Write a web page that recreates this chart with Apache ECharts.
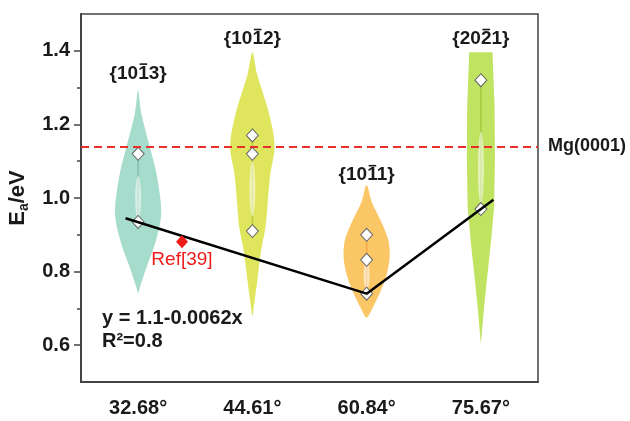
<!DOCTYPE html>
<html>
<head>
<meta charset="utf-8">
<script src="https://cdn.jsdelivr.net/npm/echarts@6/dist/echarts.min.js"></script>
<style>
html,body{margin:0;padding:0;background:#fff}
#chart{width:630px;height:421px}
</style>
</head>
<body>
<div id="chart"></div>
<script>
var categories = ['32.68°', '44.61°', '60.84°', '75.67°'];
// facet label split as [before, overlined digit, after]
var facetParts = [['{10', '1', '3}'], ['{10', '1', '2}'], ['{10', '1', '1}'], ['{20', '2', '1}']];
var facetLabelY = [1.338, 1.432, 1.062, 1.432];

// violin outline: [Ea, half width in category units], top to bottom
var violin1 = [[1.292,0],[1.229,0.029],[1.139,0.102],[1.067,0.160],[0.977,0.201],[0.932,0.193],[0.868,0.140],[0.814,0.076],[0.760,0.018],[0.742,0]];
var violin2 = [[1.396,0],[1.337,0.041],[1.247,0.131],[1.175,0.184],[1.130,0.193],[1.067,0.158],[0.995,0.136],[0.923,0.116],[0.851,0.073],[0.778,0.044],[0.706,0.013],[0.679,0]];
var violin3 = [[1.035,0],[0.990,0.044],[0.927,0.140],[0.882,0.193],[0.837,0.201],[0.792,0.175],[0.747,0.123],[0.702,0.053],[0.675,0]];
var violin4 = [[1.396,0.102],[1.247,0.120],[1.112,0.123],[0.977,0.116],[0.886,0.090],[0.796,0.059],[0.706,0.029],[0.603,0]];
var violinProfiles = [violin1, violin2, violin3, violin4];
var violinSmooth = [0.3, 0.3, 0.3, 0];

// light inner spindle [low, high]
var innerBoxes = [[0.94, 1.06], [0.95, 1.10], [0.75, 0.83], [0.98, 1.18]];

// points (diamonds)
var diamondValues = [[1.12, 0.935], [1.17, 1.12, 0.91], [0.90, 0.832, 0.74], [1.32, 0.97]];

// fit line on the continuous x scale (category i sits at i + 0.5)
var fitX = [0.39, 2.5, 3.61];
var fitY = [0.945, 0.74, 0.995];

var refPoint = [0.884, 0.881];
var mgValue = 1.138;

var yLabelValues = [0.6, 0.8, 1.0, 1.2, 1.4];
var yMinorValues = [0.7, 0.9, 1.1, 1.3];

var violinColors = ['#a6dccc', '#dfe65e', '#fbc665', '#c0e361'];
var innerLineColors = ['#5fa592', '#9aae1a', '#f08a2a', '#7fb51c'];

var FONT = '"Liberation Sans", Arial, sans-serif';
var LABEL_FONT = 'bold 19px ' + FONT;

var chart = echarts.init(document.getElementById('chart'));
var measureCtx = document.createElement('canvas').getContext('2d');
measureCtx.font = LABEL_FONT;

function renderViolin(params, api) {
    var i = params.dataIndex;
    var c = i + 0.5;
    var prof = violinProfiles[i];
    var pts = [];
    prof.forEach(function (p) {
        pts.push(api.coord([c + p[1], p[0]]));
    });
    for (var k = prof.length - 1; k >= 0; k--) {
        if (prof[k][1] > 0) pts.push(api.coord([c - prof[k][1], prof[k][0]]));
    }
    var box = innerBoxes[i];
    var top = api.coord([c, box[1]]), bot = api.coord([c, box[0]]);
    var mid = (top[1] + bot[1]) / 2;
    var d = diamondValues[i];
    var lt = api.coord([c, Math.max.apply(null, d)]);
    var lb = api.coord([c, Math.min.apply(null, d)]);
    return {
        type: 'group',
        children: [
            {type: 'polygon', shape: {points: pts, smooth: violinSmooth[i]}, style: {fill: violinColors[i]}},
            {type: 'line', shape: {x1: lt[0], y1: lt[1], x2: lb[0], y2: lb[1]},
                style: {stroke: innerLineColors[i], lineWidth: 1.5, opacity: 0.5}},
            {type: 'polygon', shape: {points: [[top[0], top[1]], [top[0] + 3, mid], [bot[0], bot[1]], [bot[0] - 3, mid]], smooth: 0.5},
                style: {fill: 'rgba(255,255,255,0.55)'}}
        ]
    };
}

function renderFacet(params, api) {
    var i = params.dataIndex;
    var pos = api.coord([i + 0.5, facetLabelY[i]]);
    var parts = facetParts[i];
    var w0 = measureCtx.measureText(parts[0]).width;
    var w1 = measureCtx.measureText(parts[1]).width;
    var wAll = measureCtx.measureText(parts.join('')).width;
    var left = pos[0] - wAll / 2;
    var barY = pos[1] - 9.5;
    return {
        type: 'group',
        children: [
            {type: 'text', x: pos[0], y: pos[1],
                style: {text: parts.join(''), font: LABEL_FONT, fill: '#1a1a1a', align: 'center', verticalAlign: 'middle'}},
            {type: 'line', shape: {x1: left + w0 + 1.5, y1: barY, x2: left + w0 + w1 - 1.5, y2: barY},
                style: {stroke: '#1a1a1a', lineWidth: 1.6}}
        ]
    };
}

var diamondData = [];
diamondValues.forEach(function (vals, i) {
    vals.forEach(function (v) { diamondData.push([categories[i], v]); });
});

var option = {
    animation: false,
    textStyle: {fontFamily: FONT},
    grid: {left: 81, right: 92, top: 14, bottom: 39, show: true, borderColor: '#444', borderWidth: 1.5,
        containLabel: false, outerBoundsMode: 'none'},
    xAxis: [
        {
            type: 'category',
            data: categories,
            boundaryGap: true,
            axisLine: {lineStyle: {color: '#444', width: 2}},
            axisTick: {alignWithLabel: true, length: 8, lineStyle: {color: '#444', width: 1.5}},
            axisLabel: {color: '#1a1a1a', fontSize: 20, fontWeight: 'bold', margin: 16, fontFamily: FONT},
            splitLine: {show: false}
        },
        {
            type: 'value', min: 0, max: 4, show: false
        }
    ],
    yAxis: [
        {
            type: 'value', min: 0.5, max: 1.5,
            name: '{b|E}{s|a}{b|/eV}',
            nameLocation: 'middle',
            nameGap: 50,
            nameRotate: 90,
            nameTextStyle: {
                rich: {
                    b: {fontSize: 22, fontWeight: 'bold', color: '#1a1a1a', fontFamily: FONT},
                    s: {fontSize: 14, fontWeight: 'bold', color: '#1a1a1a', fontFamily: FONT, verticalAlign: 'bottom', padding: [12, 0, 0, 0]}
                }
            },
            axisLine: {show: true, lineStyle: {color: '#444', width: 2}},
            axisTick: {show: true, length: 7, customValues: yLabelValues, lineStyle: {color: '#444', width: 1.5}},
            axisLabel: {customValues: yLabelValues, color: '#1a1a1a', fontSize: 20, fontWeight: 'bold', margin: 11, fontFamily: FONT,
                formatter: function (v) { return v.toFixed(1); }},
            splitLine: {show: false}
        },
        {
            type: 'value', min: 0.5, max: 1.5, position: 'left',
            axisLine: {show: false},
            axisTick: {show: true, length: 4, customValues: yMinorValues, lineStyle: {color: '#444', width: 1.5}},
            axisLabel: {show: false},
            splitLine: {show: false}
        }
    ],
    graphic: [
        {
            type: 'text', left: 102, top: 307,
            style: {text: 'y = 1.1-0.0062x\nR\u00b2=0.8', font: 'bold 20px ' + FONT, fill: '#1a1a1a', lineHeight: 23}
        }
    ],
    series: [
        {
            type: 'custom',
            xAxisIndex: 1,
            yAxisIndex: 0,
            renderItem: renderViolin,
            clip: false,
            data: violinProfiles.map(function (p, i) { return [i + 0.5, p[0][0]]; }),
            encode: {x: 0, y: 1},
            z: 1
        },
        {
            type: 'line',
            xAxisIndex: 1,
            yAxisIndex: 0,
            data: fitX.map(function (x, i) { return [x, fitY[i]]; }),
            symbol: 'none',
            lineStyle: {color: '#000', width: 2.5},
            z: 4,
            markLine: {
                silent: true,
                symbol: 'none',
                lineStyle: {color: '#e8302a', width: 2, type: [8, 5]},
                label: {position: 'end', formatter: 'Mg(0001)', color: '#1a1a1a', fontSize: 18, fontWeight: 'bold', distance: 10, fontFamily: FONT},
                data: [{yAxis: mgValue}]
            }
        },
        {
            type: 'scatter',
            xAxisIndex: 0,
            yAxisIndex: 0,
            data: diamondData,
            symbol: 'diamond',
            symbolSize: [12, 13],
            itemStyle: {color: '#fff', borderColor: '#666', borderWidth: 1, opacity: 1},
            z: 3
        },
        {
            type: 'scatter',
            xAxisIndex: 1,
            yAxisIndex: 0,
            data: [refPoint],
            symbol: 'diamond',
            symbolSize: [12, 13],
            itemStyle: {color: '#ee1b1b', opacity: 1},
            label: {show: true, position: 'bottom', distance: 2, formatter: 'Ref[39]', color: '#ee1b1b', fontSize: 19, fontFamily: FONT},
            z: 5
        },
        {
            type: 'custom',
            xAxisIndex: 1,
            yAxisIndex: 0,
            renderItem: renderFacet,
            clip: false,
            data: facetLabelY.map(function (v, i) { return [i + 0.5, v]; }),
            encode: {x: 0, y: 1},
            z: 6
        }
    ]
};
chart.setOption(option);
</script>
</body>
</html>
